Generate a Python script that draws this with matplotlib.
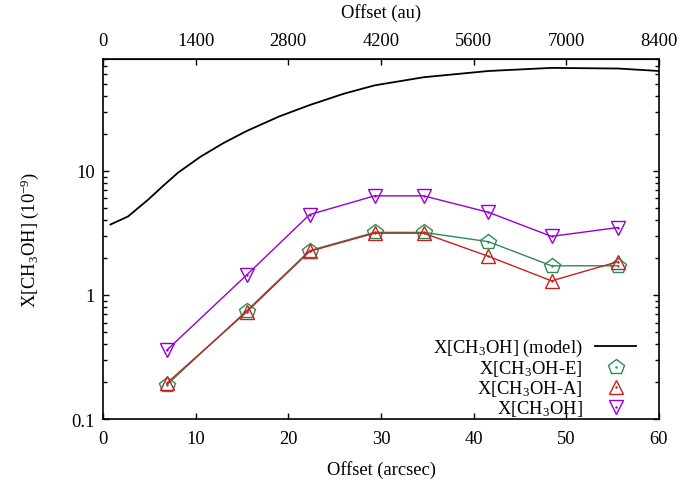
import matplotlib.pyplot as plt
from matplotlib.ticker import FixedLocator, LogLocator, NullFormatter

plt.rcParams['font.family'] = ['Liberation Serif', 'DejaVu Serif']
plt.rcParams['mathtext.fontset'] = 'custom'
plt.rcParams['mathtext.rm'] = 'Liberation Serif'
plt.rcParams['mathtext.it'] = 'Liberation Serif:italic'
plt.rcParams['font.size'] = 13.3

# model abundance profile
model_x = [0.8, 2.7, 4.9, 6.5, 8.1, 10.5, 13.0, 15.5, 19.0, 22.3, 26.0, 29.3, 34.6, 41.6, 48.4, 55.6, 60.0]
model_y = [3.7, 4.3, 5.9, 7.6, 9.7, 13.0, 16.8, 21.0, 27.5, 34.0, 42.0, 49.0, 57.0, 64.0, 67.8, 67.0, 64.0]

# observed offsets (arcsec)
offsets = [6.9, 15.5, 22.3, 29.3, 34.6, 41.6, 48.4, 55.6]
x_e = [0.189, 0.746, 2.28, 3.20, 3.20, 2.69, 1.72, 1.72]
x_a = [0.195, 0.73, 2.25, 3.15, 3.15, 2.05, 1.30, 1.86]
x_tot = [0.36, 1.45, 4.45, 6.3, 6.3, 4.64, 2.97, 3.5]

au_ticks = [0, 1400, 2800, 4200, 5600, 7000, 8400]

green = '#2e8b57'
red = '#c8201e'
purple = '#9400d3'

fig = plt.figure(figsize=(6.8, 4.81), dpi=100)
ax = fig.add_axes([0.1515, 0.1268, 0.8176, 0.7485])

lm, = ax.plot(model_x, model_y, color='black', lw=1.3)

def series(y, color, marker, size):
    ax.plot(offsets, y, color=color, lw=1.0)
    m, = ax.plot(offsets, y, ls='none', marker=marker, ms=size, mfc='none',
                 mec=color, mew=1.0)
    d, = ax.plot(offsets, y, ls='none', marker='.', ms=1.5, color=color)
    return (m, d)

he = series(x_e, green, 'p', 11.5)
ha = series(x_a, red, '^', 10)
ht = series(x_tot, purple, 'v', 10)

ax.set_yscale('log')
ax.set_xlim(0, 60)
ax.set_ylim(0.1, 80)
ax.set_xticks(range(0, 61, 10))
ax.yaxis.set_major_locator(FixedLocator([0.1, 1, 10]))
ax.set_yticklabels(['0.1', '1', '10'])
ax.yaxis.set_minor_locator(LogLocator(base=10, subs=range(2, 10)))
ax.yaxis.set_minor_formatter(NullFormatter())
ax.tick_params(which='both', direction='in', right=True, top=False)
ax.tick_params(which='major', length=4.5, width=1, pad=6)
ax.tick_params(axis='x', pad=8)
ax.tick_params(which='minor', length=2.7, width=1)
for sp in ax.spines.values():
    sp.set_linewidth(1.2)

top = ax.secondary_xaxis('top', functions=(lambda v: v * 140, lambda v: v / 140))
top.set_xticks(au_ticks)
top.tick_params(direction='in', length=4.5, width=1, pad=7)
top.set_xlabel('Offset (au)', labelpad=11)

ax.set_xlabel('Offset (arcsec)', labelpad=9)
ax.set_ylabel('X[CH$_3$OH] (10$^{-9}$)', labelpad=22)

leg = ax.legend([lm, he, ha, ht],
                ['X[CH$_3$OH] (model)', 'X[CH$_3$OH-E]', 'X[CH$_3$OH-A]', 'X[CH$_3$OH]'],
                loc='upper right', bbox_to_anchor=(0.9586, 0.227), markerfirst=False,
                frameon=False, borderpad=0, borderaxespad=0, handlelength=2.2,
                handletextpad=0.7, labelspacing=0.0)

fig.savefig('out.png', dpi=100)
